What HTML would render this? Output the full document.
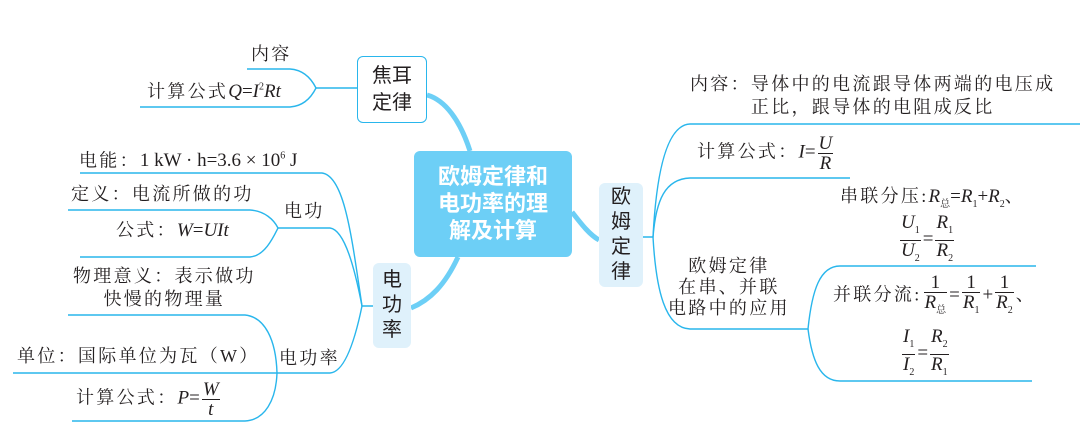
<!DOCTYPE html>
<html><head><meta charset="utf-8"><style>
body{margin:0;width:1080px;height:435px;background:#fff;position:relative;overflow:hidden;font-family:"Liberation Serif","Noto Serif CJK SC",serif;color:#231f20}
.t{position:absolute;font-size:18px;white-space:nowrap;line-height:20px;letter-spacing:2.3px}
.b{position:absolute;font-family:"Liberation Sans","Noto Sans CJK SC",sans-serif;text-align:center;box-sizing:border-box;border-radius:6px}
i{font-style:italic}
.m{letter-spacing:0;font-size:19px}
.fr{display:inline-block;vertical-align:middle;text-align:center;line-height:19px;margin:0 2px;letter-spacing:0;font-size:19px}
.fr span{display:block;padding:0 1px}
.fr span:first-child{border-bottom:1px solid #231f20}
sub{font-size:10px;letter-spacing:0}
sup{font-size:10px}
</style></head><body>
<svg width="1080" height="435" style="position:absolute;left:0;top:0" fill="none" stroke="#29b6ec" stroke-width="1.4">
<path d="M470 151 C460 120 445 100 427 95" stroke="#6dcff6" stroke-width="5"/>
<path d="M458 257 C445 285 430 300 411 308" stroke="#6dcff6" stroke-width="5"/>
<path d="M572 212 C582 225 590 235 599 240" stroke="#6dcff6" stroke-width="5"/>
<path d="M247 69 H290 C305 70 312 80 316 88 C312 96 305 106 290 107 H140"/>
<path d="M316 88 H357"/>
<path d="M80 173 H322 C345 176 352 240 362 306 H373"/>
<path d="M68 210 H250 C265 211 274 220 278 228 C274 236 265 256 250 257 H80"/>
<path d="M278 228 H330 C345 230 355 270 362 306"/>
<path d="M68 315 H245 C265 317 276 340 277 373 C276 400 265 420 245 421 H72"/>
<path d="M13 373 H330 C345 372 355 340 362 306"/>
<path d="M643 237 H653 C656 180 665 125 690 124 H1080"/>
<path d="M653 237 C656 200 665 179 690 178 H850"/>
<path d="M653 237 C656 290 665 328 690 329 H808 C812 290 820 266 840 266 H1036"/>
<path d="M808 329 C812 360 820 381 840 381 H1032"/>
</svg>
<div class="b" style="left:357px;top:56px;width:70px;height:67px;border:1.5px solid #29b6ec;background:#fff;font-size:20px;line-height:27px;padding-top:6px">焦耳<br>定律</div>
<div class="b" style="left:414px;top:151px;width:158px;height:106px;background:#6dcff6;color:#fff;font-weight:bold;font-size:22px;line-height:27px;padding-top:12px">欧姆定律和<br>电功率的理<br>解及计算</div>
<div class="b" style="left:373px;top:263px;width:38px;height:85px;background:#dff1fb;font-size:20px;line-height:25px;padding-top:5px">电<br>功<br>率</div>
<div class="b" style="left:599px;top:183px;width:44px;height:104px;background:#dff1fb;font-size:20px;line-height:25px;padding-top:2px">欧<br>姆<br>定<br>律</div>
<div class="t" style="left:251px;top:44px">内容</div>
<div class="t" style="left:147px;top:78px">计算公式<span class="m"><i>Q</i>=<i>I</i><sup>2</sup><i>Rt</i></span></div>
<div class="t" style="left:79px;top:147px">电能：<span class="m">1 kW · h=3.6 × 10<sup>6</sup> J</span></div>
<div class="t" style="left:71px;top:184px">定义：电流所做的功</div>
<div class="t" style="left:284px;top:201px">电功</div>
<div class="t" style="left:116px;top:220px">公式：<span class="m"><i>W</i>=<i>UIt</i></span></div>
<div class="t" style="left:73px;top:265px;text-align:center;line-height:23px">物理意义：表示做功<br>快慢的物理量</div>
<div class="t" style="left:17px;top:346px">单位：国际单位为瓦（W）</div>
<div class="t" style="left:279px;top:348px">电功率</div>
<div class="t" style="left:76px;top:380px">计算公式：<span class="m"><i>P</i>=</span><span class="fr"><span><i>W</i></span><span><i>t</i></span></span></div>
<div class="t" style="left:690px;top:73px;text-align:center;line-height:23px">内容：导体中的电流跟导体两端的电压成<br>正比，跟导体的电阻成反比</div>
<div class="t" style="left:697px;top:134px">计算公式：<span class="m"><i>I</i>=</span><span class="fr"><span><i>U</i></span><span><i>R</i></span></span></div>
<div class="t" style="left:840px;top:186px">串联分压:<span class="m"><i>R</i><sub>总</sub>=<i>R</i><sub>1</sub>+<i>R</i><sub>2</sub></span>、</div>
<div class="t" style="left:898px;top:213px"><span class="fr"><span><i>U</i><sub>1</sub></span><span><i>U</i><sub>2</sub></span></span><span class="m">=</span><span class="fr"><span><i>R</i><sub>1</sub></span><span><i>R</i><sub>2</sub></span></span></div>
<div class="t" style="left:668px;top:256px;text-align:center;line-height:21px">欧姆定律<br>在串、并联<br>电路中的应用</div>
<div class="t" style="left:833px;top:273px">并联分流:<span class="fr"><span>1</span><span><i>R</i><sub>总</sub></span></span><span class="m">=</span><span class="fr"><span>1</span><span><i>R</i><sub>1</sub></span></span><span class="m">+</span><span class="fr"><span>1</span><span><i>R</i><sub>2</sub></span></span>、</div>
<div class="t" style="left:900px;top:327px"><span class="fr"><span><i>I</i><sub>1</sub></span><span><i>I</i><sub>2</sub></span></span><span class="m">=</span><span class="fr"><span><i>R</i><sub>2</sub></span><span><i>R</i><sub>1</sub></span></span></div>
</body></html>
